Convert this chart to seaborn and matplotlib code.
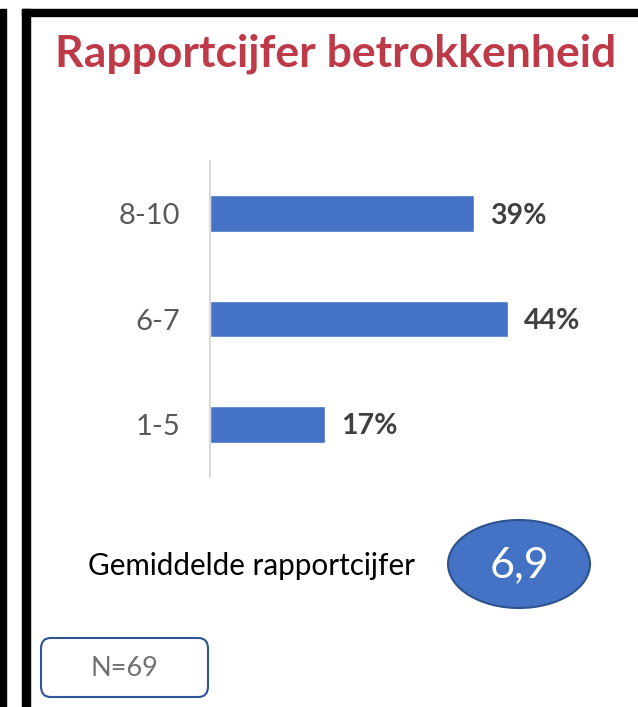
import matplotlib
matplotlib.use("Agg")
import matplotlib.pyplot as plt
import seaborn as sns
import pandas as pd
from matplotlib.patches import Rectangle, Ellipse, FancyBboxPatch

categories = ["8-10", "6-7", "1-5"]
percentages = [39, 44, 17]
value_labels = ["39%", "44%", "17%"]
title = "Rapportcijfer betrokkenheid"
avg_label = "Gemiddelde rapportcijfer"
avg_value = "6,9"
n_label = "N=69"

W, H = 638, 707
sns.set_theme(style="white")
plt.rcParams['font.family'] = ['Lato', 'DejaVu Sans']

fig = plt.figure(figsize=(W / 100, H / 100), dpi=100)

def fx(x):
    return x / W

def fy(y):
    return 1 - y / H

# frame decorations
fig.patches.append(Rectangle((fx(0), fy(H)), fx(6), 1 - 9 / H, transform=fig.transFigure,
                             color="black", zorder=0))
fig.patches.append(Rectangle((fx(22), fy(H)), fx(8), 1 - 9 / H, transform=fig.transFigure,
                             color="black", zorder=0))
fig.patches.append(Rectangle((fx(22), fy(16)), 1 - 22 / W, 7 / H, transform=fig.transFigure,
                             color="black", zorder=0))

df = pd.DataFrame({"cat": categories, "pct": percentages})

ax = fig.add_axes([fx(210), fy(477), 406 / W, 316 / H])
sns.barplot(data=df, x="pct", y="cat", order=categories, orient="h",
            color="#4472C4", width=0.35, saturation=1, ax=ax)
ax.set_xlim(0, 60)
ax.set_ylim(2.5, -0.5)
ax.set_xlabel("")
ax.set_ylabel("")
ax.set_xticks([])
for s in ["top", "right", "bottom"]:
    ax.spines[s].set_visible(False)
ax.spines["left"].set_color("#D9D9D9")
ax.spines["left"].set_linewidth(1.5)
ax.tick_params(axis="y", length=0, pad=21.5, labelsize=21, labelcolor="#595959")
ax.set_facecolor("none")

for i, (v, lab) in enumerate(zip(percentages, value_labels)):
    ax.text(v + 2.4, i + 0.02, lab, va="center", ha="left", fontsize=20.5,
            fontweight="bold", color="#404040")

fig.text(fx(336), fy(54), title, ha="center", va="center", fontsize=32,
         fontweight="bold", color="#BE3A48")

fig.text(fx(88), fy(566), avg_label, ha="left", va="center", fontsize=21.3, color="black")

ell = Ellipse((fx(519), fy(564)), 142 / W, 88 / H, transform=fig.transFigure,
              facecolor="#4472C4", edgecolor="#2F528F", linewidth=1.5)
fig.patches.append(ell)
fig.text(fx(519), fy(565), avg_value, ha="center", va="center", fontsize=31, color="white")

box = FancyBboxPatch((fx(41), fy(697)), 167 / W, 59 / H, transform=fig.transFigure,
                     boxstyle="round,pad=0,rounding_size=0.015",
                     facecolor="white", edgecolor="#2F5597", linewidth=1.5)
fig.patches.append(box)
fig.text(fx(124.5), fy(668), n_label, ha="center", va="center", fontsize=19.5, color="#767171")

fig.savefig("out.png", dpi=100)
